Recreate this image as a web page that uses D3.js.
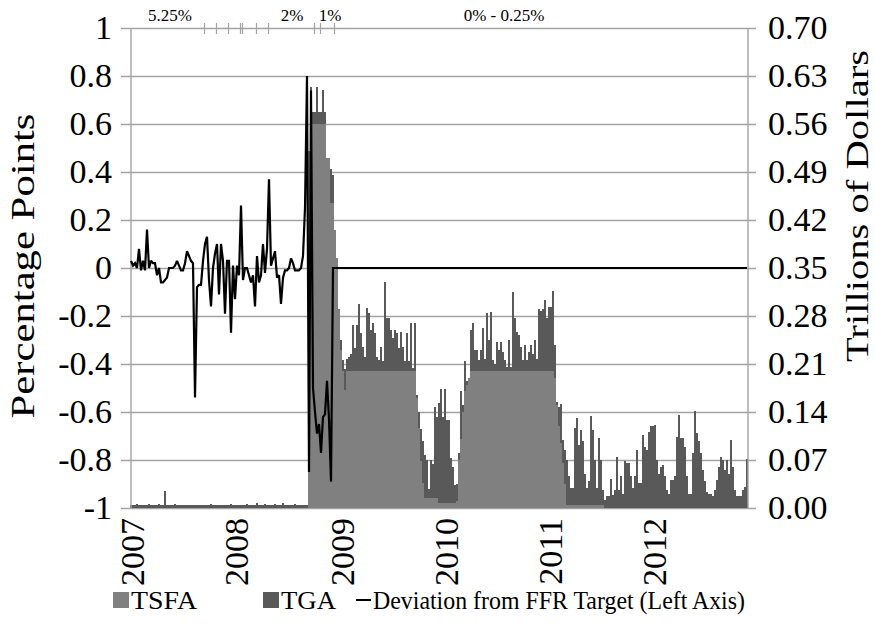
<!DOCTYPE html>
<html>
<head>
<meta charset="utf-8">
<script src="https://cdn.jsdelivr.net/npm/d3@7"></script>
<style>
  body { margin: 0; background: #fff; }
  svg text { font-family: "Liberation Serif", "Times New Roman", Tinos, serif; fill: #000; }
</style>
</head>
<body>
<div id="chart"></div>
<script>
// weekly observations, first week of January 2007 onward
const firstWeek = new Date(2007, 0, 3);

// Treasury Supplementary Financing Account, trillions of dollars (one value per week, rows of 10)
const tsfa = [
  0,0,0,0,0,0,0,0,0,0,                       // w0
  0,0,0,0,0,0,0,0,0,0,                       // w10
  0,0,0,0,0,0,0,0,0,0,                       // w20
  0,0,0,0,0,0,0,0,0,0,                       // w30
  0,0,0,0,0,0,0,0,0,0,                       // w40
  0,0,0,0,0,0,0,0,0,0,                       // w50
  0,0,0,0,0,0,0,0,0,0,                       // w60
  0,0,0,0,0,0,0,0,0,0,                       // w70
  0,0,0,0,0,0,0,0,0,0.52,                    // w80
  0.56,0.56,0.56,0.56,0.56,0.56,0.56,0.56,0.51,0.51,     // w90
  0.445,0.445,0.405,0.365,0.29,0.23,0.2,0.172,0.2,0.2,   // w100
  0.2,0.2,0.2,0.2,0.2,0.2,0.2,0.2,0.2,0.2,   // w110
  0.2,0.2,0.2,0.2,0.2,0.2,0.2,0.2,0.2,0.2,   // w120
  0.2,0.2,0.2,0.2,0.2,0.2,0.2,0.2,0.2,0.2,   // w130
  0.2,0.2,0.2,0.16,0.117,0.068,0.036,0.014,0.014,0.014,  // w140
  0.014,0.014,0.014,0.014,0.007,0.007,0.007,0.007,0.007,0.007, // w150
  0.007,0.007,0.007,0.01,0.07,0.10,0.14,0.17,0.18,0.19,  // w160
  0.2,0.2,0.2,0.2,0.2,0.2,0.2,0.2,0.2,0.2,   // w170
  0.2,0.2,0.2,0.2,0.2,0.2,0.2,0.2,0.2,0.2,   // w180
  0.2,0.2,0.2,0.2,0.2,0.2,0.2,0.2,0.2,0.2,   // w190
  0.2,0.2,0.2,0.2,0.2,0.2,0.2,0.2,0.2,0.2,   // w200
  0.2,0.2,0.19,0.15,0.12,0.095,0.065,0.035,0.005,0.005,  // w210
  0.005,0.005,0.005,0.005,0.005,0.005,0.005,0.005,0.005,0.005, // w220
  0.005,0.005,0.005,0.005,0.005,0.005,0.005,0,0,0,       // w230
  0,0,0,0,0,0,0,0,0,0,                       // w240
  0,0,0,0,0,0,0,0,0,0,                       // w250
  0,0,0,0,0,0,0,0,0,0,                       // w260
  0,0,0,0,0,0,0,0,0,0,                       // w270
  0,0,0,0,0,0,0,0,0,0,                       // w280
  0,0,0,0,0,0,0,0,0,0,                       // w290
  0,0,0,0,0,0,0,0,0                          // w300
];

// Treasury General Account, trillions of dollars
const tga = [
  0.004,0.005,0.004,0.006,0.005,0.004,0.005,0.004,0.005,0.006,  // w0
  0.004,0.005,0.004,0.005,0.006,0.005,0.004,0.025,0.005,0.004,  // w10
  0.005,0.004,0.006,0.004,0.005,0.004,0.005,0.004,0.005,0.004,  // w20
  0.004,0.005,0.004,0.005,0.004,0.005,0.004,0.005,0.004,0.005,  // w30
  0.006,0.004,0.005,0.004,0.005,0.004,0.005,0.004,0.005,0.004,  // w40
  0.006,0.005,0.004,0.005,0.004,0.005,0.004,0.005,0.006,0.004,  // w50
  0.005,0.004,0.005,0.007,0.004,0.005,0.004,0.006,0.005,0.004,  // w60
  0.005,0.004,0.006,0.004,0.005,0.004,0.007,0.005,0.004,0.005,  // w70
  0.004,0.005,0.006,0.004,0.005,0.004,0.005,0.004,0.005,0.000,  // w80
  0.054,0.018,0.018,0.054,0.018,0.018,0.05,0.018,0.0,0.0,       // w90
  0.05,0.04,0.0,0.0,0.0,0.015,0.016,0.03,0.017,0.02,            // w100
  0.024,0.067,0.033,0.067,0.097,0.055,0.035,0.02,0.092,0.084,   // w110
  0.06,0.07,0.055,0.02,0.016,0.035,0.014,0.13,0.077,0.077,      // w120
  0.06,0.048,0.06,0.055,0.033,0.057,0.035,0.014,0.055,0.014,    // w130
  0.07,0.004,0.07,0.005,0.023,0.047,0.061,0.063,0.056,0.013,    // w140
  0.056,0.05,0.134,0.119,0.146,0.167,0.126,0.167,0.122,0.122,   // w150
  0.066,0.053,0.027,0.025,0.01,0.07,0.01,0.045,0.005,0.0,       // w160
  0.06,0.07,0.03,0.03,0.016,0.03,0.062,0.018,0.085,0.045,       // w170
  0.086,0.016,0.01,0.042,0.03,0.042,0.028,0.016,0.005,0.045,    // w180
  0.005,0.115,0.077,0.057,0.052,0.035,0.016,0.037,0.016,0.028,  // w190
  0.037,0.025,0.045,0.018,0.09,0.087,0.09,0.104,0.077,0.093,    // w200
  0.093,0.117,0.048,0.005,0.028,0.057,0.034,0.05,0.065,0.041,   // w210
  0.024,0.024,0.111,0.126,0.087,0.109,0.092,0.045,0.024,0.035,  // w220
  0.129,0.109,0.065,0.024,0.097,0.065,0.021,0.012,0.017,0.017,  // w230
  0.043,0.019,0.026,0.075,0.026,0.046,0.021,0.068,0.066,0.065,  // w240
  0.046,0.029,0.046,0.085,0.036,0.036,0.107,0.089,0.085,0.111,  // w250
  0.119,0.119,0.121,0.07,0.05,0.06,0.063,0.046,0.026,0.021,     // w260
  0.041,0.041,0.046,0.104,0.136,0.102,0.102,0.089,0.046,0.021,  // w270
  0.021,0.08,0.141,0.11,0.097,0.08,0.055,0.04,0.024,0.021,      // w280
  0.021,0.017,0.026,0.041,0.06,0.075,0.07,0.055,0.07,0.05,      // w290
  0.099,0.06,0.026,0.017,0.017,0.017,0.026,0.031,0.072          // w300
];

// effective fed funds minus target, percentage points
const ffrDeviation = [
  0.03,0.01,0.02,0.0,0.08,-0.01,0.03,-0.01,0.16,0.0,            // w0
  0.03,0.02,0.02,-0.03,0.0,-0.06,-0.06,-0.05,-0.04,0.0,         // w10
  0.0,0.0,0.01,0.03,0.01,-0.01,-0.01,0.02,0.07,0.05,            // w20
  0.03,0.02,-0.54,-0.08,-0.07,-0.07,0.03,0.10,0.13,-0.05,       // w30
  -0.16,0.0,0.06,0.10,-0.11,0.10,0.03,-0.19,0.03,0.03,          // w40
  -0.27,0.01,-0.13,0.01,-0.03,0.26,-0.05,0.0,0.0,-0.03,         // w50
  -0.06,-0.03,-0.16,0.05,-0.06,-0.03,0.10,-0.02,0.08,0.37,      // w60
  0.01,0.04,0.07,-0.04,-0.03,-0.15,-0.04,-0.01,-0.01,0.0,       // w70
  0.04,0.02,-0.01,-0.01,-0.01,0.0,0.05,0.25,0.8,-0.85,          // w80
  0.74,-0.5,-0.6,-0.69,-0.65,-0.77,-0.62,-0.61,-0.47,-0.63,     // w90
  -0.89,0,0,0,0,0,0,0,0,0,                   // w100
  0,0,0,0,0,0,0,0,0,0,                       // w110
  0,0,0,0,0,0,0,0,0,0,                       // w120
  0,0,0,0,0,0,0,0,0,0,                       // w130
  0,0,0,0,0,0,0,0,0,0,                       // w140
  0,0,0,0,0,0,0,0,0,0,                       // w150
  0,0,0,0,0,0,0,0,0,0,                       // w160
  0,0,0,0,0,0,0,0,0,0,                       // w170
  0,0,0,0,0,0,0,0,0,0,                       // w180
  0,0,0,0,0,0,0,0,0,0,                       // w190
  0,0,0,0,0,0,0,0,0,0,                       // w200
  0,0,0,0,0,0,0,0,0,0,                       // w210
  0,0,0,0,0,0,0,0,0,0,                       // w220
  0,0,0,0,0,0,0,0,0,0,                       // w230
  0,0,0,0,0,0,0,0,0,0,                       // w240
  0,0,0,0,0,0,0,0,0,0,                       // w250
  0,0,0,0,0,0,0,0,0,0,                       // w260
  0,0,0,0,0,0,0,0,0,0,                       // w270
  0,0,0,0,0,0,0,0,0,0,                       // w280
  0,0,0,0,0,0,0,0,0,0,                       // w290
  0,0,0,0,0,0,0,0,0                          // w300
];

const years = [2007, 2008, 2009, 2010, 2011, 2012];
const leftTicks = [-1, -0.8, -0.6, -0.4, -0.2, 0, 0.2, 0.4, 0.6, 0.8, 1];
const rightTicks = [0, 0.07, 0.14, 0.21, 0.28, 0.35, 0.42, 0.49, 0.56, 0.63, 0.70];

// FOMC target changes (marked on the top line) and the target in force
const targetChanges = ["2007-09-18", "2007-10-31", "2007-12-11", "2008-01-22", "2008-01-30",
                       "2008-03-18", "2008-04-30", "2008-10-08", "2008-10-29", "2008-12-16"];
const targetLabels = ["5.25%", "2%", "1%", "0% - 0.25%"];
const targetLabelDates = ["2007-05-23", "2008-07-23", "2008-12-03", "2010-08-04"];

const seriesNames = ["TSFA", "TGA", "Deviation from FFR Target (Left Axis)"];
const colors = {TSFA: "#808080", TGA: "#595959", line: "#000000", grid: "#a3a3a3"};
const fontStack = '"Liberation Serif", "Times New Roman", Tinos, serif';

if (tsfa.length !== tga.length || tga.length !== ffrDeviation.length) {
  throw new Error("length mismatch " + tsfa.length + " " + tga.length + " " + ffrDeviation.length);
}

const W = 875, H = 635;
const plot = {left: 130, right: 748, top: 28, bottom: 508};
const n = tsfa.length;
const weeks = d3.range(n).map(i => d3.timeWeek.offset(firstWeek, i));
const parse = d3.timeParse("%Y-%m-%d");

const svg = d3.select("#chart").append("svg")
  .attr("width", W)
  .attr("height", H)
  .attr("font-family", fontStack);

const x = d3.scaleTime()
  .domain([firstWeek, d3.timeWeek.offset(firstWeek, n)])
  .range([plot.left, plot.right]);

const yL = d3.scaleLinear().domain([-1, 1]).range([plot.bottom, plot.top]);
const yR = d3.scaleLinear().domain([0, 0.70]).range([plot.bottom, plot.top]);

// gridlines (extend past both axes as tick marks)
svg.append("g")
  .selectAll("line")
  .data(leftTicks)
  .enter().append("line")
  .attr("x1", plot.left - 9)
  .attr("x2", plot.right + 8)
  .attr("y1", d => Math.round(yL(d)) + 0.5)
  .attr("y2", d => Math.round(yL(d)) + 0.5)
  .style("stroke", colors.grid)
  .style("stroke-width", 1.4);

// stacked bars
const table = weeks.map((w, i) => ({week: w, TSFA: tsfa[i], TGA: tga[i]}));
const stacked = d3.stack().keys(["TSFA", "TGA"])(table);

svg.append("g")
  .selectAll("g")
  .data(stacked)
  .enter().append("g")
  .style("fill", d => colors[d.key])
  .selectAll("rect")
  .data(d => d)
  .enter().append("rect")
  .attr("x", d => x(d.data.week))
  .attr("width", d => x(d3.timeWeek.offset(d.data.week, 1)) - x(d.data.week))
  .attr("y", d => yR(d[1]))
  .attr("height", d => Math.max(0, yR(d[0]) - yR(d[1])))
  .attr("shape-rendering", "crispEdges");

// axis lines
svg.append("line")
  .attr("x1", plot.left + 1).attr("x2", plot.left + 1)
  .attr("y1", plot.top).attr("y2", plot.bottom)
  .style("stroke", colors.grid).style("stroke-width", 1.4);
svg.append("line")
  .attr("x1", plot.right).attr("x2", plot.right)
  .attr("y1", plot.top).attr("y2", plot.bottom)
  .style("stroke", colors.grid).style("stroke-width", 1.4);

// deviation line
const line = d3.line()
  .x((d, i) => x(weeks[i]) + (x(d3.timeWeek.offset(weeks[i], 1)) - x(weeks[i])) / 2)
  .y(d => yL(d));

svg.append("path")
  .datum(ffrDeviation)
  .attr("d", line)
  .style("fill", "none")
  .style("stroke", colors.line)
  .style("stroke-width", 2.2)
  .style("stroke-linejoin", "miter")
  .style("stroke-miterlimit", 2);

// target change marks on the top line
svg.append("g")
  .selectAll("line")
  .data(targetChanges)
  .enter().append("line")
  .attr("x1", d => Math.round(x(parse(d))) + 0.5)
  .attr("x2", d => Math.round(x(parse(d))) + 0.5)
  .attr("y1", plot.top - 5)
  .attr("y2", plot.top + 6)
  .style("stroke", colors.grid)
  .style("stroke-width", 1.2);

svg.append("g")
  .selectAll("text")
  .data(targetLabels)
  .enter().append("text")
  .attr("x", (d, i) => x(parse(targetLabelDates[i])))
  .attr("y", 21)
  .attr("text-anchor", "middle")
  .style("font-size", "17px")
  .text(d => d);

// left axis
const leftAxis = d3.axisLeft(yL)
  .tickValues(leftTicks)
  .tickSize(0)
  .tickPadding(18)
  .tickFormat(d => String(+d.toFixed(1)));

svg.append("g")
  .attr("transform", `translate(${plot.left},0)`)
  .call(leftAxis)
  .attr("font-family", fontStack)
  .call(g => g.select(".domain").remove())
  .selectAll("text")
  .style("font-size", "34px");

// right axis
const rightAxis = d3.axisRight(yR)
  .tickValues(rightTicks)
  .tickSize(0)
  .tickPadding(20)
  .tickFormat(d3.format(".2f"));

svg.append("g")
  .attr("transform", `translate(${plot.right},0)`)
  .call(rightAxis)
  .attr("font-family", fontStack)
  .call(g => g.select(".domain").remove())
  .selectAll("text")
  .style("font-size", "34px");

// year labels, rotated, at the first week of each year
svg.append("g")
  .selectAll("text")
  .data(years)
  .enter().append("text")
  .attr("transform", d => {
    const wk = weeks.find(w => w.getFullYear() === d);
    const cx = x(wk) + 2;
    return `translate(${cx},518) rotate(-90)`;
  })
  .attr("text-anchor", "end")
  .attr("dy", "0.35em")
  .style("font-size", "34px")
  .text(d => d);

// axis titles
svg.append("text")
  .attr("transform", "translate(22,266) rotate(-90)")
  .attr("text-anchor", "middle")
  .attr("dy", "0.35em")
  .attr("textLength", 305)
  .attr("lengthAdjust", "spacingAndGlyphs")
  .style("font-size", "33px")
  .text("Percentage Points");

svg.append("text")
  .attr("transform", "translate(857,206) rotate(-90)")
  .attr("text-anchor", "middle")
  .attr("dy", "0.35em")
  .attr("textLength", 312)
  .attr("lengthAdjust", "spacingAndGlyphs")
  .style("font-size", "32px")
  .text("Trillions of Dollars");

// legend
const legend = svg.append("g").attr("transform", "translate(0,600)");
const legendX = [113, 263, 356];
const legendTextLen = [66, 55, 372];

legend.selectAll("rect")
  .data(seriesNames.slice(0, 2))
  .enter().append("rect")
  .attr("x", (d, i) => legendX[i])
  .attr("y", -8)
  .attr("width", 16)
  .attr("height", 16)
  .style("fill", d => colors[d]);

legend.append("line")
  .attr("x1", legendX[2]).attr("x2", legendX[2] + 15)
  .attr("y1", 0).attr("y2", 0)
  .style("stroke", colors.line)
  .style("stroke-width", 2);

legend.selectAll("text")
  .data(seriesNames)
  .enter().append("text")
  .attr("x", (d, i) => legendX[i] + (i < 2 ? 18 : 17))
  .attr("y", 0)
  .attr("dy", "0.35em")
  .attr("textLength", (d, i) => legendTextLen[i])
  .attr("lengthAdjust", "spacingAndGlyphs")
  .style("font-size", "26px")
  .text(d => d);
</script>
</body>
</html>
